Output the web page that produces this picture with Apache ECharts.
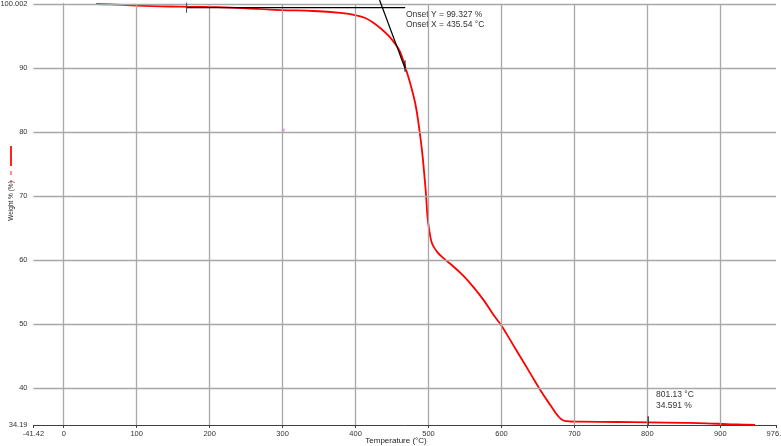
<!DOCTYPE html>
<html>
<head>
<meta charset="utf-8">
<script src="https://cdn.jsdelivr.net/npm/echarts@6/dist/echarts.min.js"></script>
<style>html,body{margin:0;padding:0;background:#fff}#c{width:781px;height:446px}</style>
</head>
<body>
<div id="c"></div>
<script>
// ---- data ----
const temperature = [44.5, 64, 100.5, 159.9, 228.4, 296.8, 342, 379, 402.3, 413.3, 422.9, 433.8, 444.8, 454.4, 461.2, 468.1, 474.9, 481.8, 486.3, 491.0, 494.5, 496.8, 498.6, 501.0, 504.7, 511.5, 520.5, 534.2, 547.9, 561.6, 575.3, 589.0, 599.2, 611.9, 625.6, 639.3, 653.0, 666.7, 678.1, 684.9, 694.1, 707.8, 760, 801.13, 850, 881, 909, 930, 947.5];
const weight = [100.0, 99.95, 99.74, 99.58, 99.45, 99.06, 98.91, 98.6, 98.2, 97.81, 97.19, 96.25, 95.08, 93.75, 92.5, 90.16, 87.61, 84.49, 81.36, 77.19, 73.02, 69.89, 66.77, 64.69, 62.61, 61.3, 60.27, 58.96, 57.5, 55.75, 53.75, 51.41, 49.85, 47.5, 44.89, 42.3, 39.69, 37.35, 35.52, 34.89, 34.74, 34.72, 34.66, 34.591, 34.52, 34.45, 34.32, 34.26, 34.22];

const xMin = -41.42, xMax = 976.3;
const yMin = 34.19, yMax = 100.002;
const xTickValues = [-41.42, 0, 100, 200, 300, 400, 500, 600, 700, 800, 900, 976.3];
const yTickValues = [34.19, 40, 50, 60, 70, 80, 90, 100.002];
const xGridValues = [0, 100, 200, 300, 400, 500, 600, 700, 800, 900];
const yGridValues = [40, 50, 60, 70, 80, 90, 100.002];

const onsetBaseline = [[168.4, 99.45], [468.0, 99.45]];
const onsetTangent = [[432.9, 100.63], [467.8, 89.96]];
const tickStart = [[168.4, 100.2], [168.4, 98.64]];
const tickEnd = [[467.8, 91.2], [467.8, 89.4]];
const tickEndPoint = [[801.13, 35.55], [801.13, 34.19]];
const strayPoint = [[301, 80.3]];

const curve = temperature.map((t, i) => [t, weight[i]]);

const chart = echarts.init(document.getElementById('c'), null, {renderer: 'canvas'});
const FONT = 'Liberation Sans';
const lbl = {fontFamily: FONT, fontSize: 7.5, color: '#333'};

function seg(data, extra) {
  return Object.assign({
    type: 'line', data: data, showSymbol: false, symbol: 'none', silent: true,
    lineStyle: {color: '#000', width: 1.2}, clip: false, z: 5, animation: false
  }, extra || {});
}

chart.setOption({
  animation: false,
  grid: {left: 33.5, right: 5, top: 4, bottom: 21, containLabel: false, outerBoundsMode: 'none'},
  xAxis: {
    type: 'value', min: xMin, max: xMax,
    axisLine: {show: true, lineStyle: {color: '#404040', width: 1}},
    axisTick: {show: true, length: 3, customValues: xTickValues, lineStyle: {color: '#404040'}},
    axisLabel: Object.assign({customValues: xTickValues, margin: 5, showMinLabel: true, showMaxLabel: true,
      hideOverlap: false, formatter: v => String(v)}, lbl),
    splitLine: {show: false}
  },
  yAxis: {
    type: 'value', min: yMin, max: yMax,
    axisLine: {show: true, lineStyle: {color: '#404040', width: 1}},
    axisTick: {show: true, length: 3, customValues: yTickValues, lineStyle: {color: '#404040'}},
    axisLabel: Object.assign({customValues: yTickValues, margin: 6, showMinLabel: true, showMaxLabel: true,
      hideOverlap: false, formatter: v => String(v)}, lbl),
    splitLine: {show: false}
  },
  graphic: [
    {type: 'line', shape: {x1: 11, y1: 146, x2: 11, y2: 166}, style: {stroke: '#ff2020', lineWidth: 2}},
    {type: 'line', shape: {x1: 11, y1: 171, x2: 11, y2: 183}, style: {stroke: '#ff2020', lineWidth: 1, lineDash: [4, 5]}},
    {type: 'text', x: 11, y: 201, rotation: Math.PI / 2,
      style: {text: 'Weight % (%)', fontFamily: FONT, fontSize: 6.5, fill: '#222', align: 'center', verticalAlign: 'middle'}},
    {type: 'text', x: 396, y: 441,
      style: {text: 'Temperature (°C)', fontFamily: FONT, fontSize: 8, fill: '#222', align: 'center', verticalAlign: 'middle'}},
    {type: 'text', left: 406, top: 10,
      style: {text: 'Onset Y = 99.327 %', fontFamily: FONT, fontSize: 8.5, fill: '#333'}},
    {type: 'text', left: 406, top: 20,
      style: {text: 'Onset X = 435.54 °C', fontFamily: FONT, fontSize: 8.5, fill: '#333'}},
    {type: 'text', left: 656, top: 390,
      style: {text: '801.13 °C', fontFamily: FONT, fontSize: 8.5, fill: '#333'}},
    {type: 'text', left: 656, top: 401,
      style: {text: '34.591 %', fontFamily: FONT, fontSize: 8.5, fill: '#333'}}
  ],
  series: [
    {
      type: 'line', data: [], silent: true, z: 1,
      markLine: {
        silent: true, symbol: 'none', animation: false,
        label: {show: false},
        lineStyle: {color: '#a8a8a8', width: 1.3, type: 'solid'},
        data: xGridValues.map(v => ({xAxis: v})).concat(yGridValues.map(v => ({yAxis: v})))
      }
    },
    {
      type: 'line', data: curve, showSymbol: false, symbol: 'none', smooth: 0.4,
      lineStyle: {color: '#ff0000', width: 1.8}, z: 4, animation: false
    },
    seg(onsetBaseline),
    seg(onsetTangent),
    seg(tickStart, {lineStyle: {color: '#444', width: 1}}),
    seg(tickEnd, {lineStyle: {color: '#000', width: 1}}),
    seg(tickEndPoint, {lineStyle: {color: '#000', width: 1}}),
    {
      type: 'scatter', data: strayPoint, symbol: 'rect', symbolSize: 3,
      itemStyle: {color: '#ff88ff'}, silent: true, z: 3
    }
  ]
});
</script>
</body>
</html>
